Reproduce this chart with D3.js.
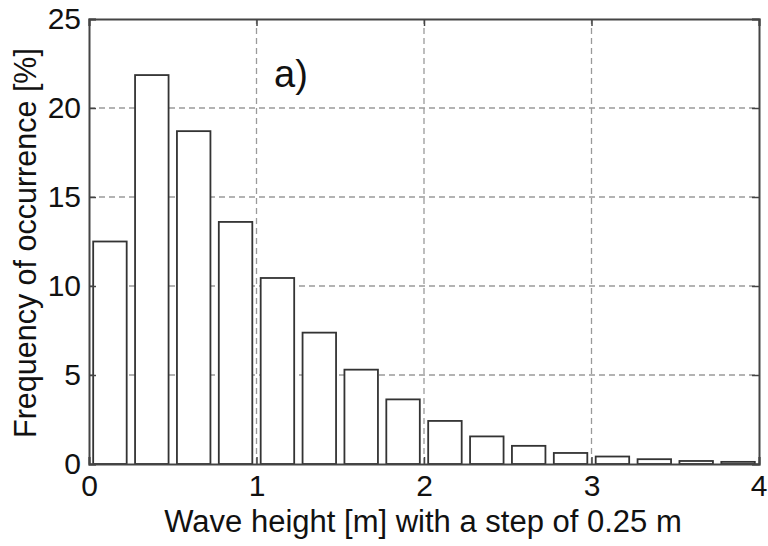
<!DOCTYPE html>
<html>
<head>
<meta charset="utf-8">
<script src="https://cdn.jsdelivr.net/npm/d3@7"></script>
<style>
  body { margin: 0; background: #fff; }
  svg text { font-family: "Liberation Sans", Arial, sans-serif; fill: #111; }
</style>
</head>
<body>
<div id="chart"></div>
<script>
// Wave height classes (bin centres, step 0.25 m) and their frequency in %
var binCenters = [0.125, 0.375, 0.625, 0.875, 1.125, 1.375, 1.625, 1.875,
                  2.125, 2.375, 2.625, 2.875, 3.125, 3.375, 3.625, 3.875];
var frequency = [12.5, 21.85, 18.7, 13.6, 10.45, 7.38, 5.3, 3.63,
                 2.42, 1.55, 1.02, 0.62, 0.42, 0.27, 0.17, 0.12];
var xTicks = [0, 1, 2, 3, 4];
var yTicks = [0, 5, 10, 15, 20, 25];
var xTitle = 'Wave height [m] with a step of 0.25 m';
var yTitle = 'Frequency of occurrence [%]';
var panelLabel = 'a)';

var width = 768,
    height = 546,
    margin = { top: 19, right: 9, bottom: 82, left: 89 },
    binStep = 0.25,
    barFrac = 0.8,
    tickLen = 7;

var svg = d3.select('#chart').append('svg')
    .attr('width', width)
    .attr('height', height);

var x = d3.scaleLinear().domain([0, 4]).range([margin.left, width - margin.right]),
    y = d3.scaleLinear().domain([0, 25]).range([height - margin.bottom, margin.top]);

// Dashed grid (under the bars)
var grid = svg.append('g').attr('class', 'grid')
    .attr('stroke', '#9a9a9a')
    .attr('stroke-width', 1.3)
    .attr('stroke-dasharray', '6,4');

grid.selectAll('line.gx')
  .data(xTicks.slice(1, -1))
  .enter().append('line')
    .attr('class', 'gx')
    .attr('x1', function(d) { return x(d); })
    .attr('x2', function(d) { return x(d); })
    .attr('y1', y(0))
    .attr('y2', y(25));

grid.selectAll('line.gy')
  .data(yTicks.slice(1, -1))
  .enter().append('line')
    .attr('class', 'gy')
    .attr('x1', x(0))
    .attr('x2', x(4))
    .attr('y1', function(d) { return y(d); })
    .attr('y2', function(d) { return y(d); });

// Bars
var bars = binCenters.map(function(c, i) { return { c: c, v: frequency[i] }; });
var barW = x(binStep * barFrac) - x(0);

svg.append('g').selectAll('rect')
  .data(bars)
  .enter().append('rect')
    .attr('x', function(d) { return x(d.c) - barW / 2; })
    .attr('y', function(d) { return y(d.v); })
    .attr('width', barW)
    .attr('height', function(d) { return y(0) - y(d.v); })
    .attr('fill', '#fff')
    .attr('stroke', '#333')
    .attr('stroke-width', 1.8);

// Axes with inward ticks, box round the plot
var fmt = d3.format('d');
var xAxis = d3.axisBottom(x).tickValues(xTicks).tickFormat(fmt).tickSize(-tickLen).tickPadding(11),
    yAxis = d3.axisLeft(y).tickValues(yTicks).tickFormat(fmt).tickSize(-tickLen).tickPadding(8);

svg.append('g')
    .attr('transform', 'translate(0,' + y(0) + ')')
    .call(xAxis);
svg.append('g')
    .attr('transform', 'translate(' + x(0) + ',0)')
    .call(yAxis);

svg.append('g')
    .attr('transform', 'translate(0,' + y(25) + ')')
    .call(d3.axisTop(x).tickValues(xTicks).tickSize(-tickLen).tickFormat(''));
svg.append('g')
    .attr('transform', 'translate(' + x(4) + ',0)')
    .call(d3.axisRight(y).tickValues(yTicks).tickSize(-tickLen).tickFormat(''));

svg.selectAll('.domain').attr('stroke', '#444').attr('stroke-width', 2);
svg.selectAll('.tick line').attr('stroke', '#444').attr('stroke-width', 1.5);
svg.selectAll('.tick text')
    .attr('font-size', 30)
    .attr('font-family', '"Liberation Sans", Arial, sans-serif')
    .attr('fill', '#111');

// last x label sits right at the page edge, keep it inside
svg.selectAll('.tick text')
    .filter(function(d) { return d === 4 && this.getAttribute('y') > 0; })
    .attr('text-anchor', 'end')
    .attr('dx', 8);

// Titles
svg.append('text')
    .attr('x', (x(0) + x(4)) / 2 - 1)
    .attr('y', 532)
    .attr('text-anchor', 'middle')
    .attr('font-size', 31)
    .text(xTitle);

svg.append('text')
    .attr('transform', 'translate(36,' + 243 + ') rotate(-90)')
    .attr('text-anchor', 'middle')
    .attr('font-size', 30.5)
    .text(yTitle);

svg.append('text')
    .attr('x', 274)
    .attr('y', 87)
    .attr('font-size', 38)
    .text(panelLabel);
</script>
</body>
</html>
